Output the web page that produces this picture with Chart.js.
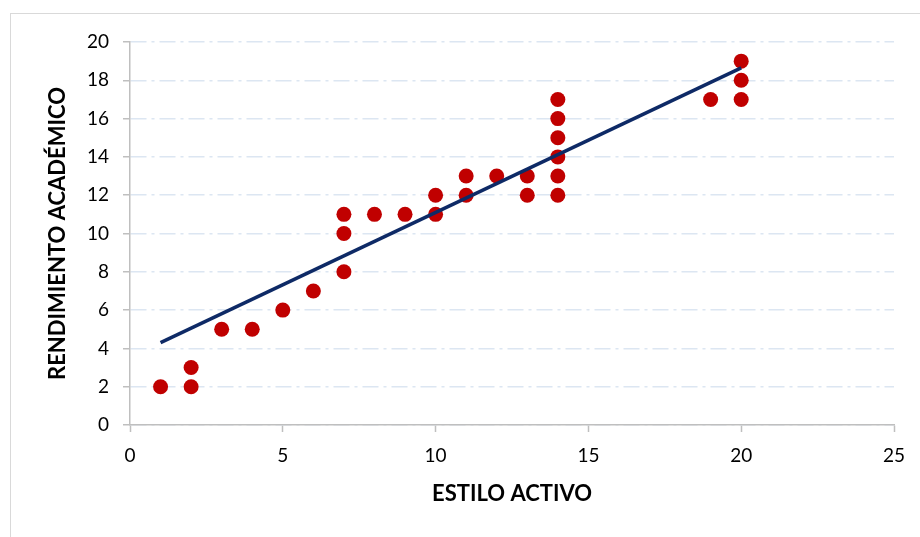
<!DOCTYPE html>
<html>
<head>
<meta charset="utf-8">
<script src="https://cdn.jsdelivr.net/npm/chart.js@4.4.0/dist/chart.umd.min.js"></script>
<style>
  html, body { margin: 0; padding: 0; background: #fff; }
  #wrap { position: relative; width: 920px; height: 537px; }
  #frame { position: absolute; left: 10px; top: 13px; width: 920px; height: 540px; border: 1px solid #d9d9d9; box-sizing: border-box; }
  canvas { position: absolute; left: 0; top: 0; }
</style>
</head>
<body>
<div id="wrap">
  <div id="frame"></div>
  <canvas id="myChart" width="920" height="537"></canvas>
</div>
<script>
// data
var estiloActivo = [1, 2, 2, 3, 4, 5, 6, 7, 7, 7, 8, 9, 10, 10, 11, 11, 12, 13, 13, 14, 14, 14, 14, 14, 14, 19, 20, 20, 20]
var rendimiento  = [2, 2, 3, 5, 5, 6, 7, 8, 10, 11, 11, 11, 11, 12, 12, 13, 13, 12, 13, 12, 13, 14, 15, 16, 17, 17, 17, 18, 19]
// linear trend line ends
var trendX = [1, 20]
var trendY = [4.3, 18.65]

var xTicks = [0, 5, 10, 15, 20, 25]
var yTicks = [0, 2, 4, 6, 8, 10, 12, 14, 16, 18, 20]

var points = estiloActivo.map(function (v, i) { return { x: v, y: rendimiento[i] } })
var trend = trendX.map(function (v, i) { return { x: v, y: trendY[i] } })

var tickFont = { family: 'Lato', size: 19 }
var titleFont = { family: 'Lato', size: 22, weight: 'bold' }

const ctx = document.getElementById('myChart').getContext('2d');
const myChart = new Chart(ctx, {
    type: 'scatter',
    data: {
        datasets: [{
            //trend line
            type: 'line',
            data: trend,
            borderColor: '#0e2a66',
            borderWidth: 3.5,
            pointRadius: 0,
            fill: false,
            order: 0,
        },
        {
            //points
            data: points,
            backgroundColor: '#c00000',
            borderWidth: 0,
            pointRadius: 7.5,
            order: 1,
        }]
    },
    options: {
        responsive: false,
        animation: false,
        layout: { padding: { left: 0, top: 42, right: 26, bottom: 0 } },
        plugins: { legend: { display: false }, tooltip: { enabled: false } },
        scales: {
            x: {
                type: 'linear',
                min: 0,
                max: 25,
                afterFit: function (s) { s.height = 112 },
                afterBuildTicks: function (s) { s.ticks = xTicks.map(function (v) { return { value: v } }) },
                ticks: { font: tickFont, color: '#000', padding: 12 },
                grid: { drawOnChartArea: false, drawTicks: true, tickLength: 7, tickColor: '#bfbfbf', tickWidth: 1.5 },
                border: { color: '#bfbfbf', width: 1.5 },
                title: { display: true, text: 'ESTILO ACTIVO', font: titleFont, color: '#000', padding: { top: 0, bottom: 30 } },
            },
            y: {
                type: 'linear',
                min: 0,
                max: 20,
                afterFit: function (s) { s.width = 130 },
                afterBuildTicks: function (s) { s.ticks = yTicks.map(function (v) { return { value: v } }) },
                ticks: { font: tickFont, color: '#000', padding: 14 },
                grid: { color: '#dce6f2', lineWidth: 1.5, tickLength: 7, tickColor: '#bfbfbf', tickBorderDash: [], tickWidth: 1.5 },
                border: { color: '#bfbfbf', width: 1.5, dash: [16, 5, 3, 5] },
                title: { display: true, text: 'RENDIMIENTO ACADÉMICO', font: titleFont, color: '#000', padding: { top: 45, bottom: 0 } },
            }
        }
    }
});
</script>
</body>
</html>
